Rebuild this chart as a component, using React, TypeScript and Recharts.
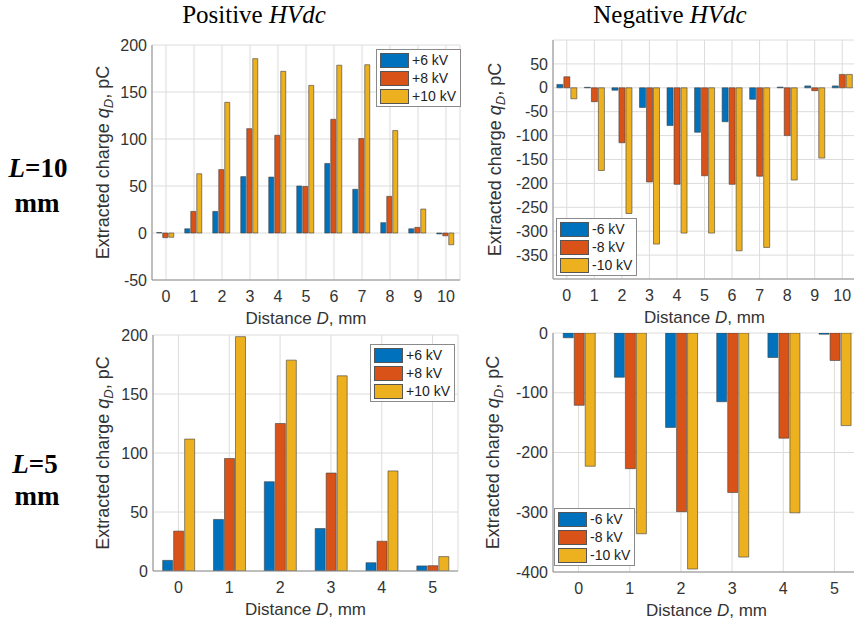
import { BarChart, Bar, XAxis, YAxis, CartesianGrid, Legend } from 'recharts';

// distances (mm)
const dist10 = [0, 1, 2, 3, 4, 5, 6, 7, 8, 9, 10];
const dist5 = [0, 1, 2, 3, 4, 5];

// L = 10 mm, positive HVdc
const pos10_6 = [0.5, 4.5, 23, 60, 59.5, 50, 74, 46.5, 11, 4.5, -1];
const pos10_8 = [-5, 23, 67.5, 111, 104, 49.5, 121, 100.5, 39, 6, -3];
const pos10_10 = [-4.5, 63, 139, 185.5, 172, 157, 178.5, 179, 109, 25.5, -12.5];

// L = 10 mm, negative HVdc
const neg10_6 = [7, 1, -5, -41, -79, -93, -71, -24, 1.5, 4, 4];
const neg10_8 = [23, -29, -115, -197, -202, -184, -202, -185, -100, -6, 28];
const neg10_10 = [-23, -173, -263, -327, -304, -304, -341, -334, -193, -147, 28];

// L = 5 mm, positive HVdc
const pos5_6 = [9, 43.7, 75.7, 36, 7, 4.3];
const pos5_8 = [33.8, 95.3, 125, 83, 25.2, 4.5];
const pos5_10 = [111.8, 198.6, 178.7, 165.4, 84.8, 12.2];

// L = 5 mm, negative HVdc
const neg5_6 = [-8, -74, -158, -115, -41, -2];
const neg5_8 = [-121, -227, -299, -267, -176, -46];
const neg5_10 = [-223, -336, -395, -375, -301, -155];

const posNames = ['+6 kV', '+8 kV', '+10 kV'];
const negNames = ['-6 kV', '-8 kV', '-10 kV'];

const ticksPos10 = [-50, 0, 50, 100, 150, 200];
const ticksNeg10 = [-350, -300, -250, -200, -150, -100, -50, 0, 50];
const ticksPos5 = [0, 50, 100, 150, 200];
const ticksNeg5 = [-400, -300, -200, -100, 0];

const COLORS = ['#0072BD', '#D95319', '#EDB120'];
const FONT = '"Liberation Sans", Arial, sans-serif';
const SERIF = '"Liberation Serif", "Times New Roman", serif';
const BOX = '#8f8f8f';
const GRID = '#dcdcdc';
const TXT = '#333';

const rows = (d: number[], a: number[], b: number[], c: number[]) =>
  d.map((v, i) => ({ d: String(v), a: a[i], b: b[i], c: c[i] }));

const YW = 80;
const XH = 60;

function LegendBox({ names }: { names: string[] }) {
  return (
    <div style={{ background: '#fff', border: '1px solid #8a8a8a', padding: '1px 4px 1px 3px', fontFamily: FONT, fontSize: 14, color: '#222' }}>
      {names.map((n, i) => (
        <div key={n} style={{ display: 'flex', alignItems: 'center', height: 18 }}>
          <span style={{ width: 29, height: 15, background: COLORS[i], border: '1px solid #555', boxSizing: 'border-box', marginRight: 3 }} />
          {n}
        </div>
      ))}
    </div>
  );
}

function Panel({ data, names, domain, ticks, x0, x1, y0, y1, lx, ly, ylab, gap }: any) {
  const L = x0 - YW;
  const T = y0 - 10;
  const W = x1 - L + 10;
  const H = y1 - T + XH;

  const yLabel = (p: any) => {
    const vb = p.viewBox;
    const cx = vb.x + vb.width - ylab;
    const cy = vb.y + vb.height / 2;
    return (
      <text x={cx} y={cy + 6} transform={`rotate(-90 ${cx} ${cy})`} textAnchor="middle" fontFamily={FONT} fontSize={18} fill={TXT}>
        Extracted charge <tspan fontStyle="italic">q</tspan>
        <tspan fontStyle="italic" fontSize={13} dy={4}>D</tspan>
        <tspan dy={-4}>, pC</tspan>
      </text>
    );
  };

  const xLabel = (p: any) => {
    const vb = p.viewBox;
    return (
      <text x={vb.x + vb.width / 2} y={vb.y + 44} textAnchor="middle" fontFamily={FONT} fontSize={17} fill={TXT}>
        Distance <tspan fontStyle="italic">D</tspan>, mm
      </text>
    );
  };

  return (
    <div style={{ position: 'absolute', left: L, top: T }}>
      <BarChart width={W} height={H} data={data} margin={{ top: 10, right: 10, left: 0, bottom: 0 }} barCategoryGap={gap} barGap={1}>
        <CartesianGrid stroke={GRID} />
        <XAxis dataKey="d" height={XH} tickSize={0} tickMargin={11} axisLine={{ stroke: BOX }}
          tick={{ fill: TXT, fontFamily: FONT, fontSize: 16 }} label={xLabel} />
        <XAxis xAxisId="top" dataKey="d" orientation="top" height={0} tick={false} tickLine={false} axisLine={{ stroke: BOX }} />
        <YAxis type="number" domain={domain} ticks={ticks} width={YW} tickSize={0} tickMargin={5} allowDataOverflow
          axisLine={{ stroke: BOX }} tick={{ fill: TXT, fontFamily: FONT, fontSize: 16 }} label={yLabel} />
        <YAxis yAxisId="r" orientation="right" type="number" domain={domain} width={0} tick={false} tickLine={false} axisLine={{ stroke: BOX }} />
        <Legend layout="vertical" align="center" verticalAlign="middle"
          wrapperStyle={{ left: lx - L, top: ly - T, width: 'auto', height: 'auto' }}
          content={() => <LegendBox names={names} />} />
        {['a', 'b', 'c'].map((k, i) => (
          <Bar key={k} dataKey={k} name={names[i]} fill={COLORS[i]} stroke="#404040" strokeWidth={0.6} isAnimationActive={false} />
        ))}
      </BarChart>
    </div>
  );
}

export default function App() {
  return (
    <div style={{ position: 'absolute', left: 0, top: 0, width: 854, height: 620, overflow: 'hidden', background: '#fff' }}>
      <svg width={854} height={620} style={{ position: 'absolute', left: 0, top: 0 }}>
        <text x={254} y={23} textAnchor="middle" fontFamily={SERIF} fontSize={25} fill="#000">
          Positive <tspan fontStyle="italic">HVdc</tspan>
        </text>
        <text x={670} y={23} textAnchor="middle" fontFamily={SERIF} fontSize={25} fill="#000">
          Negative <tspan fontStyle="italic">HVdc</tspan>
        </text>
        <text x={38} y={177} textAnchor="middle" fontFamily={SERIF} fontSize={27} fontWeight="bold">
          <tspan fontStyle="italic">L</tspan>=10
        </text>
        <text x={37} y={212} textAnchor="middle" fontFamily={SERIF} fontSize={27} fontWeight="bold">mm</text>
        <text x={35} y={473} textAnchor="middle" fontFamily={SERIF} fontSize={27} fontWeight="bold">
          <tspan fontStyle="italic">L</tspan>=5
        </text>
        <text x={37} y={505} textAnchor="middle" fontFamily={SERIF} fontSize={27} fontWeight="bold">mm</text>
      </svg>
      <Panel data={rows(dist10, pos10_6, pos10_8, pos10_10)} names={posNames} domain={[-50, 200]} ticks={ticksPos10}
        x0={152} x1={460} y0={45} y1={280} lx={376} ly={49} ylab={49} gap="17%" />
      <Panel data={rows(dist10, neg10_6, neg10_8, neg10_10)} names={negNames} domain={[-400, 100]} ticks={ticksNeg10}
        x0={553} x1={856} y0={40} y1={279} lx={556} ly={218} ylab={58} gap="14%" />
      <Panel data={rows(dist5, pos5_6, pos5_8, pos5_10)} names={posNames} domain={[0, 200]} ticks={ticksPos5}
        x0={153} x1={458} y0={335} y1={571} lx={370} ly={344} ylab={50} gap="19%" />
      <Panel data={rows(dist5, neg5_6, neg5_8, neg5_10)} names={negNames} domain={[-400, 0]} ticks={ticksNeg5}
        x0={553} x1={860} y0={333} y1={572} lx={554} ly={508} ylab={60} gap="20%" />
    </div>
  );
}
